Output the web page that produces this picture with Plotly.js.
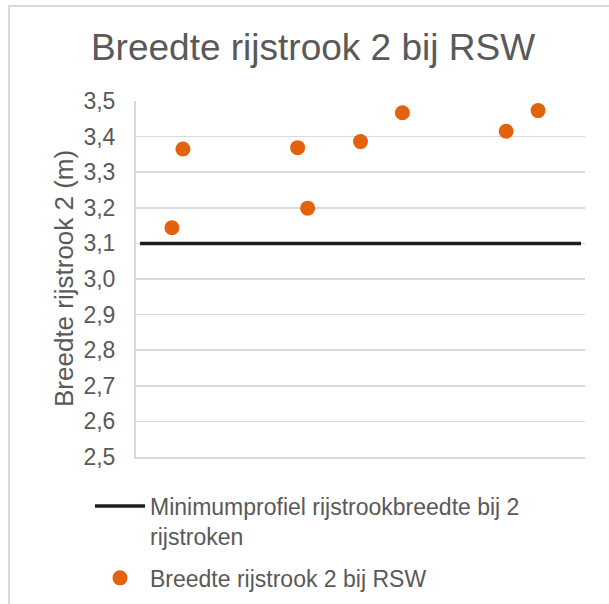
<!DOCTYPE html>
<html>
<head>
<meta charset="utf-8">
<script src="https://cdn.plot.ly/plotly-3.0.1.min.js"></script>
<style>
  html, body { margin: 0; padding: 0; background: #fff; }
  #wrap { position: relative; width: 609px; height: 604px; overflow: hidden; }
  #chart { position: absolute; left: 0; top: 0; width: 609px; height: 604px; }
  #frame { position: absolute; left: 8px; top: 5px; width: 700px; height: 700px;
           border-top: 2px solid #d9d9d9; border-left: 2px solid #d9d9d9; pointer-events: none; }
</style>
</head>
<body>
<div id="wrap">
  <div id="chart"></div>
  <div id="frame"></div>
</div>
<script>
// Data
const chartTitle = "Breedte rijstrook 2 bij RSW";
const yAxisTitle = "Breedte rijstrook 2 (m)";
const pointX = [3.6, 4.7, 16.2, 17.2, 22.5, 26.7, 37.1, 40.3];
const pointY = [3.144, 3.365, 3.369, 3.199, 3.386, 3.467, 3.415, 3.473];
const minLineX = [0.4, 44.6];
const minLineY = [3.1, 3.1];
const seriesNames = ["Minimumprofiel rijstrookbreedte bij 2<br>rijstroken", "Breedte rijstrook 2 bij RSW"];
const yRange = [2.5, 3.5];
const xRange = [0, 45];

const grey = "#595959";
const font = "Liberation Sans, Arial, sans-serif";

const traces = [
  {
    type: "scatter", mode: "lines", name: seriesNames[0], legendgroup: "a",
    x: minLineX, y: minLineY,
    line: { color: "#1f1f1f", width: 3.5 },
    hoverinfo: "skip"
  },
  {
    type: "scatter", mode: "markers", name: seriesNames[1], legendgroup: "b",
    x: pointX, y: pointY,
    marker: { color: "#E3620E", size: 15 }
  }
];

const layout = {
  width: 609, height: 604,
  margin: { l: 136, r: 24, t: 101, b: 147, autoexpand: false },
  paper_bgcolor: "rgba(0,0,0,0)", plot_bgcolor: "rgba(0,0,0,0)",
  separators: ",.",
  font: { family: font, color: grey },
  title: {
    text: chartTitle,
    font: { family: font, size: 37, color: grey },
    x: 313 / 609, xref: "container", xanchor: "center",
    y: 1 - 47 / 604, yref: "container", yanchor: "middle"
  },
  xaxis: {
    range: xRange, showgrid: false, zeroline: false,
    showticklabels: false, ticks: "",
    showline: true, linecolor: "#d9d9d9", linewidth: 2,
    fixedrange: true
  },
  yaxis: {
    range: yRange, dtick: 0.1, tick0: 2.5, tickformat: ".1f",
    showgrid: true, gridcolor: "#d9d9d9", gridwidth: 1.5,
    zeroline: false, showline: true, linecolor: "#d9d9d9", linewidth: 2,
    ticks: "", ticklabelstandoff: 14,
    tickfont: { family: font, size: 23, color: grey },
    fixedrange: true
  },
  showlegend: true,
  legend: {
    orientation: "v",
    x: (90 - 136) / 449, xanchor: "left",
    y: -0.1 + 8 / 356, yanchor: "top",
    font: { family: font, size: 23, color: grey },
    itemwidth: 50,
    valign: "top",
    tracegroupgap: 9,
    bgcolor: "rgba(0,0,0,0)"
  },
  annotations: [
    {
      text: yAxisTitle, textangle: -90,
      xref: "paper", yref: "paper", x: 0, y: 0.5,
      xanchor: "center", yanchor: "middle", xshift: -72,
      showarrow: false,
      font: { family: font, size: 26, color: grey }
    }
  ]
};

Plotly.newPlot("chart", traces, layout, { displayModeBar: false, staticPlot: true });
</script>
</body>
</html>
